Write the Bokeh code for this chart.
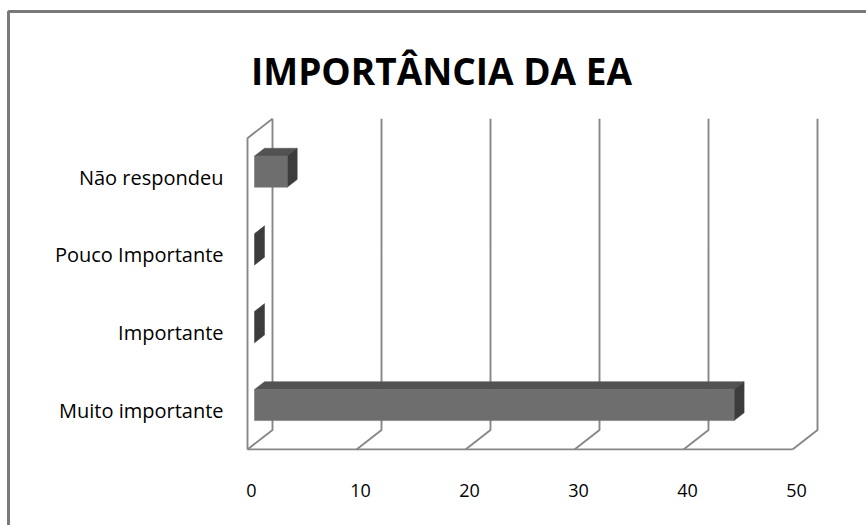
from bokeh.plotting import figure
from bokeh.embed import file_html
from bokeh.resources import INLINE
from bokeh.core.properties import value

# --- data -------------------------------------------------------------
title_text = "IMPORTÂNCIA DA EA"
categories = ["Muito importante", "Importante", "Pouco Importante", "Não respondeu"]
counts = [44, 0, 0, 3]
ticks = [0, 10, 20, 30, 40, 50]
tick_labels = ["0", "10", "20", "30", "40", "50"]

# --- layout -----------------------------------------------------------
W, H = 866, 525
PX_X = 10.9        # pixels per count
PX_Y = 77.8        # pixels per category step
ORIGIN_X = 247     # pixel column of count 0 on the front plane
ORIGIN_Y = 410     # pixel row of the first category on the front plane

# oblique depth of the 3-D box, in data units
DX = 25 / PX_X
DY = 19.5 / PX_Y
BAR_FRONT, BAR_BACK = 0.28, 0.68   # bar depth as fraction of box depth
BAR_HALF = 0.2                      # half bar height, category units

x0 = -ORIGIN_X / PX_X
x1 = x0 + W / PX_X
y_top = ORIGIN_Y / PX_Y
y_bot = y_top - H / PX_Y


def px(xp, yp):
    """pixel position (from top-left) -> data coordinates"""
    return x0 + xp / PX_X, y_top - yp / PX_Y


def proj(v, c, f):
    return v + f * DX, c + f * DY


p = figure(width=W, height=H, x_range=(x0, x1), y_range=(y_bot, y_top),
           output_backend="svg", toolbar_location=None, min_border=0,
           x_axis_location=None, y_axis_location=None,
           outline_line_color=None, background_fill_color="white",
           border_fill_color="white")
p.xgrid.visible = False
p.ygrid.visible = False

GRID = "#878787"
floor_c = -0.5
top_c = len(categories) - 0.5
vmax = ticks[-1]

# walls and floor outline
xs, ys = [], []
# front-left edge and top of side wall
xs.append([0, 0, proj(0, top_c, 1)[0]])
ys.append([floor_c, top_c, proj(0, top_c, 1)[1]])
# front floor edge
xs.append([0, vmax])
ys.append([floor_c, floor_c])
for t in ticks:
    bx, by = proj(t, floor_c, 1)
    tx, ty = proj(t, top_c, 1)
    xs.append([t, bx, tx])
    ys.append([floor_c, by, ty])
p.multi_line(xs, ys, line_color=GRID, line_width=1.9)

# bars: front, top and side faces
front_x, front_y, top_x, top_y, side_x, side_y = [], [], [], [], [], []
for i, v in enumerate(counts):
    lo, hi = i - BAR_HALF, i + BAR_HALF
    pts = [proj(0, lo, BAR_FRONT), proj(v, lo, BAR_FRONT),
           proj(v, hi, BAR_FRONT), proj(0, hi, BAR_FRONT)]
    front_x.append([q[0] for q in pts]); front_y.append([q[1] for q in pts])
    pts = [proj(0, hi, BAR_FRONT), proj(v, hi, BAR_FRONT),
           proj(v, hi, BAR_BACK), proj(0, hi, BAR_BACK)]
    top_x.append([q[0] for q in pts]); top_y.append([q[1] for q in pts])
    pts = [proj(v, lo, BAR_FRONT), proj(v, hi, BAR_FRONT),
           proj(v, hi, BAR_BACK), proj(v, lo, BAR_BACK)]
    side_x.append([q[0] for q in pts]); side_y.append([q[1] for q in pts])

p.patches(top_x, top_y, fill_color="#525252", line_color="#525252", line_width=0.5)
p.patches(side_x, side_y, fill_color="#3c3c3c", line_color="#3c3c3c", line_width=0.5)
p.patches(front_x, front_y, fill_color="#6e6e6e", line_color="#6e6e6e", line_width=0.5)

FONT = value("Open Sans")

# title
tx, ty = px(441, 70)
p.text(x=[tx], y=[ty], text=[title_text], text_font=FONT, text_font_style="bold",
       text_font_size="37px", text_align="center", text_baseline="alphabetic",
       text_color="#000000")

# category labels
lx = px(223, 0)[0]
p.text(x=[lx] * len(categories), y=list(range(len(categories))), text=categories,
       text_font=FONT, text_font_size="20px", text_align="right",
       text_baseline="middle", text_color="#000000")

# value tick labels
ly = px(0, 490)[1]
off = 4 / PX_X
p.text(x=[t + off for t in ticks], y=[ly] * len(ticks), text=tick_labels,
       text_font=FONT, text_font_size="18px", text_align="center",
       text_baseline="middle", text_color="#000000")

# frame edges of the chart area
bx0, by0 = px(8, 11)
bx1, _ = px(W, 11)
_, by1 = px(8, H)
p.multi_line([[bx1, bx0, bx0]], [[by0, by0, by1]], line_color="#7a7a7a", line_width=3)

open("out.html", "w").write(file_html(p, INLINE))
